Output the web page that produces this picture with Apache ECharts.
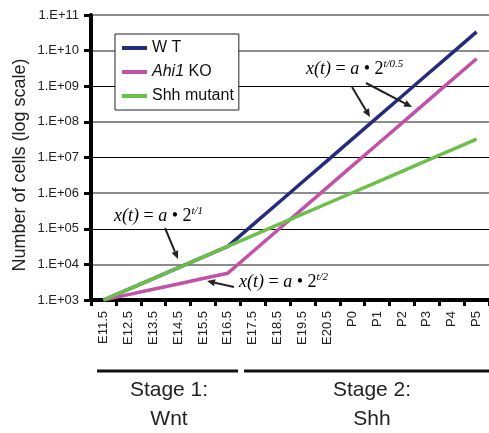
<!DOCTYPE html>
<html>
<head>
<meta charset="utf-8">
<script src="https://cdn.jsdelivr.net/npm/echarts@6/dist/echarts.min.js"></script>
<style>html,body{margin:0;padding:0;background:#fff;}#c{width:489px;height:433px;}</style>
</head>
<body>
<div id="c"></div>
<script>
const categories = ['E11.5','E12.5','E13.5','E14.5','E15.5','E16.5','E17.5','E18.5','E19.5','E20.5','P0','P1','P2','P3','P4','P5'];
const wtValues = [1000,2000,4000,8000,16000,32000,128000,512000,2048000,8192000,32768000,131072000,524288000,2097152000,8388608000,33554432000];
const ahi1Values = [1000,1414,2000,2828,4000,5657,22627,90510,362039,1448155,5792619,23170475,92681900,370727600,1482910400,5931641600];
const shhValues = [1000,2000,4000,8000,16000,32000,64000,128000,256000,512000,1024000,2048000,4096000,8192000,16384000,32768000];
const seriesNames = ['WT','Ahi1 KO','Shh mutant'];
const yTickLabels = ['1.E+03','1.E+04','1.E+05','1.E+06','1.E+07','1.E+08','1.E+09','1.E+10','1.E+11'];

const colors = ['#272b7c','#c153a6','#6cc04a'];
const chart = echarts.init(document.getElementById('c'), null, {renderer:'canvas'});

function arrow(x1,y1,x2,y2){
  const dx=x2-x1, dy=y2-y1, L=Math.sqrt(dx*dx+dy*dy), ux=dx/L, uy=dy/L;
  const hl=8, hw=3.5;
  const bx=x2-ux*hl, by=y2-uy*hl;
  return [
    {type:'line', shape:{x1:x1,y1:y1,x2:bx,y2:by}, style:{stroke:'#222',lineWidth:2}, z:20},
    {type:'polygon', shape:{points:[[x2,y2],[bx-uy*hw,by+ux*hw],[bx+uy*hw,by-ux*hw]]}, style:{fill:'#222'}, z:20}
  ];
}
const eqRich = {
  i:{fontFamily:'Liberation Serif',fontStyle:'italic',fontSize:18,color:'#333',lineHeight:20},
  n:{fontFamily:'Liberation Serif',fontSize:18,color:'#333',lineHeight:20},
  s:{fontFamily:'Liberation Serif',fontStyle:'italic',fontSize:11,color:'#333',verticalAlign:'top',lineHeight:20}
};
function eq(x,y,sup){
  return {type:'text', left:x, top:y, z:20,
    style:{text:'{i|x(t)}{n| = }{i|a}{n| \u2022 2}{s|'+sup+'}', rich:eqRich}};
}
const graphics = [
  {type:'text', x:20, y:165, rotation:Math.PI/2, z:20,
   style:{text:'Number of cells (log scale)', fontFamily:'Liberation Sans', fontSize:18, fill:'#222', align:'center', verticalAlign:'middle'}},
  eq(306,59,'t/0.5'),
  eq(114,206,'t/1'),
  eq(239,272,'t/2'),
  ...arrow(352,87,370,117),
  ...arrow(366,83,412,107),
  ...arrow(165,228,178,259),
  ...arrow(234,287,207,281),
  {type:'line', shape:{x1:97,y1:371,x2:238,y2:371}, style:{stroke:'#111',lineWidth:3}},
  {type:'line', shape:{x1:244,y1:371,x2:492,y2:371}, style:{stroke:'#111',lineWidth:3}},
  {type:'text', x:169, y:405, style:{text:'Stage 1:\nWnt', fontFamily:'Liberation Sans', fontSize:21, lineHeight:29, fill:'#222', align:'center', verticalAlign:'middle'}},
  {type:'text', x:372, y:405, style:{text:'Stage 2:\nShh', fontFamily:'Liberation Sans', fontSize:21, lineHeight:29, fill:'#222', align:'center', verticalAlign:'middle'}}
];

const T = 'rgba(0,0,0,0)';
const option = {
  animation:false,
  grid:{left:91, top:15, width:400, height:285, containLabel:false},
  legend:{
    data:seriesNames, orient:'vertical', left:115, top:34,
    padding:[5,5,5,7], itemGap:6, itemWidth:25, itemHeight:4, icon:'rect',
    backgroundColor:'#fff', borderColor:'#222', borderWidth:1,
    textStyle:{fontFamily:'Liberation Sans', fontSize:16, color:'#111', lineHeight:18,
      rich:{it:{fontFamily:'Liberation Sans', fontSize:16, fontStyle:'italic', color:'#111', lineHeight:18}}},
    formatter:function(n){ return n==='Ahi1 KO' ? '{it|Ahi1} KO' : (n==='WT' ? 'W T' : n); }
  },
  xAxis:{
    type:'category', data:categories, boundaryGap:true,
    axisLine:{lineStyle:{color:'#000', width:4}},
    axisTick:{show:true, length:6, lineStyle:{color:'#000', width:3}},
    axisLabel:{rotate:90, margin:11, fontFamily:'Liberation Sans', fontSize:13, color:'#222', interval:0},
    splitLine:{show:false}
  },
  yAxis:[{
    type:'log', logBase:10, min:1000, max:1e11, interval:1, splitNumber:8,
    axisLine:{show:true, lineStyle:{color:'#000', width:4}},
    axisTick:{show:true, length:7, lineStyle:{color:'#000', width:3}},
    axisLabel:{margin:12, fontFamily:'Liberation Sans', fontSize:13, color:'#222',
      formatter:function(v){ const e=Math.round(Math.log10(v)); return yTickLabels[e-3]; }},
    splitLine:{show:true, lineStyle:{width:2, color:[T,'#8c8c8c',T,'#8c8c8c',T,'#8c8c8c',T,'#8c8c8c','#8c8c8c']}}
  },{
    type:'log', logBase:10, min:1000, max:1e11, interval:1, splitNumber:8, position:'left',
    axisLine:{show:false}, axisTick:{show:false}, axisLabel:{show:false},
    splitLine:{show:true, lineStyle:{width:1, color:[T,T,'#000',T,'#000',T,'#000',T,T]}}
  }],
  series:[
    {name:seriesNames[0], type:'line', data:wtValues, showSymbol:false, symbol:'none', lineStyle:{width:3.5, color:colors[0]}, itemStyle:{color:colors[0]}, z:3},
    {name:seriesNames[1], type:'line', data:ahi1Values, showSymbol:false, symbol:'none', lineStyle:{width:3.5, color:colors[1]}, itemStyle:{color:colors[1]}, z:4},
    {name:seriesNames[2], type:'line', data:shhValues, showSymbol:false, symbol:'none', lineStyle:{width:3.5, color:colors[2]}, itemStyle:{color:colors[2]}, z:5}
  ],
  graphic:graphics
};
chart.setOption(option);
</script>
</body>
</html>
